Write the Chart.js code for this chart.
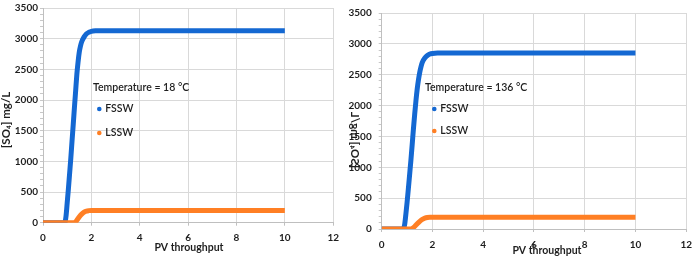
<!DOCTYPE html>
<html>
<head>
<meta charset="utf-8">
<script src="https://cdn.jsdelivr.net/npm/chart.js@4.4.1/dist/chart.umd.min.js"></script>
<style>
html,body{margin:0;padding:0;background:#fff;}
.box{position:absolute;top:0;height:259px;}
#b1{left:0;width:345px;}
#b2{left:345px;width:354px;}
</style>
</head>
<body>
<div class="box" id="b1"><canvas id="c1"></canvas></div>
<div class="box" id="b2"><canvas id="c2"></canvas></div>
<script>
// ---- data ----
const xTicks = [0, 2, 4, 6, 8, 10, 12];
const yTicks = [0, 500, 1000, 1500, 2000, 2500, 3000, 3500];
const seriesNames = ['FSSW', 'LSSW'];
const titles = ['Temperature = 18 °C', 'Temperature = 136 °C'];
const xTitle = 'PV throughput';
const yTitle = '[SO₄] mg/L';

// Left chart (18 °C)
const fssw18X = [0, 0.9, 0.95, 1.0, 1.05, 1.1, 1.15, 1.2, 1.25, 1.3, 1.35, 1.4, 1.45, 1.5, 1.55, 1.6, 1.7, 1.8, 1.9, 2.0, 2.2, 2.5, 10];
const fssw18Y = [0, 0, 100, 320, 550, 800, 1050, 1330, 1600, 1880, 2150, 2420, 2620, 2780, 2880, 2950, 3030, 3080, 3105, 3120, 3128, 3130, 3130];
const lssw18X = [0, 1.25, 1.3, 1.35, 1.4, 1.5, 1.6, 1.7, 1.8, 1.9, 2.0, 10];
const lssw18Y = [0, 0, 3, 15, 40, 95, 140, 172, 190, 197, 200, 200];

// Right chart (136 °C)
const fssw136X = [0, 0.85, 0.9, 0.95, 1.0, 1.05, 1.1, 1.15, 1.2, 1.25, 1.3, 1.35, 1.4, 1.45, 1.5, 1.55, 1.6, 1.7, 1.8, 1.9, 2.0, 2.2, 10];
const fssw136Y = [0, 0, 60, 230, 430, 650, 880, 1110, 1360, 1620, 1860, 2080, 2270, 2420, 2540, 2630, 2700, 2770, 2810, 2835, 2845, 2850, 2850];
const lssw136X = [0, 1.12, 1.2, 1.3, 1.4, 1.5, 1.6, 1.7, 1.8, 1.9, 10];
const lssw136Y = [0, 0, 8, 40, 85, 125, 155, 175, 186, 190, 190];

const BLUE = '#1468d2';
const ORANGE = '#ff7f24';
const FONT = 'Lato, "Liberation Sans", sans-serif';
const TXT = '#1e1e1e';

function pts(xs, ys) { return xs.map((x, i) => ({x: x, y: ys[i]})); }

function makeChart(id, cfg) {
  const W = cfg.W, H = 259;
  const overlay = {
    id: 'overlay',
    afterDraw(chart) {
      const ctx = chart.ctx;
      ctx.save();
      // x title
      ctx.fillStyle = TXT;
      ctx.font = 'bold 10.5px ' + FONT;
      ctx.textAlign = 'center';
      ctx.textBaseline = 'middle';
      ctx.fillText(xTitle, cfg.xtX, cfg.xtY);
      // y title
      ctx.save();
      ctx.font = 'bold 11.5px ' + FONT;
      ctx.translate(cfg.ytX, cfg.ytY);
      if (cfg.mirror) ctx.scale(-1, 1);
      ctx.rotate(-Math.PI / 2);
      ctx.fillText(yTitle, 0, 0);
      ctx.restore();
      // legend box text
      ctx.font = '600 10.5px ' + FONT;
      ctx.textAlign = 'left';
      ctx.fillStyle = TXT;
      ctx.fillText(cfg.title, cfg.lgX, cfg.lgY);
      const cols = [BLUE, ORANGE];
      seriesNames.forEach((n, i) => {
        const yy = cfg.dotY[i];
        ctx.beginPath();
        ctx.fillStyle = cols[i];
        ctx.arc(cfg.dotX, yy, 2.3, 0, Math.PI * 2);
        ctx.fill();
        ctx.fillStyle = TXT;
        ctx.fillText(n, cfg.dotX + 6, yy);
      });
      ctx.restore();
    }
  };
  return new Chart(document.getElementById(id), {
    type: 'scatter',
    data: {
      datasets: [
        {label: 'LSSW', data: pts(cfg.lx, cfg.ly), showLine: true, borderColor: ORANGE, backgroundColor: ORANGE,
         borderWidth: 5, pointRadius: 0, cubicInterpolationMode: 'monotone', order: 0},
        {label: 'FSSW', data: pts(cfg.fx, cfg.fy), showLine: true, borderColor: BLUE, backgroundColor: BLUE,
         borderWidth: 5, pointRadius: 0, cubicInterpolationMode: 'monotone', order: 1}
      ]
    },
    options: {
      responsive: true,
      maintainAspectRatio: false,
      animation: false,
      events: [],
      layout: {padding: {left: 0, right: W - cfg.right, top: cfg.top, bottom: 0}},
      plugins: {legend: {display: false}, tooltip: {enabled: false}},
      scales: {
        x: {
          type: 'linear', min: 0, max: 12,
          afterBuildTicks(s) { s.ticks = xTicks.map(v => ({value: v})); },
          afterFit(s) { s.height = H - cfg.bottom; },
          grid: {color: '#d9d9d9', lineWidth: 1, drawTicks: true, tickLength: 3, tickColor: '#bfbfbf'},
          border: {color: '#bfbfbf'},
          ticks: {color: TXT, font: {family: FONT, size: 10, weight: 'bold'}, padding: cfg.xPad, maxRotation: 0}
        },
        y: {
          type: 'linear', min: 0, max: 3500,
          afterBuildTicks(s) {
            const t = [];
            for (let v = 0; v <= 3500; v += 100) t.push({value: v});
            s.ticks = t;
          },
          afterFit(s) { s.width = cfg.left; },
          grid: {
            color: c => (yTicks.includes(c.tick.value) ? '#d9d9d9' : 'rgba(0,0,0,0)'),
            tickColor: '#c8c8c8', tickLength: 3, lineWidth: 1
          },
          border: {color: '#bfbfbf'},
          ticks: {
            autoSkip: false,
            color: TXT, font: {family: FONT, size: 10, weight: 'bold'}, padding: cfg.yPad,
            callback: v => (yTicks.includes(v) ? String(v) : '')
          }
        }
      }
    },
    plugins: [overlay]
  });
}

makeChart('c1', {
  W: 345, left: 43, right: 335, top: 7.5, bottom: 222.7,
  xPad: 6, yPad: 2,
  fx: fssw18X, fy: fssw18Y, lx: lssw18X, ly: lssw18Y,
  title: titles[0],
  xtX: 189, xtY: 248, ytX: 6, ytY: 120, mirror: false,
  lgX: 93, lgY: 88, dotX: 99.3, dotY: [109, 133]
});
makeChart('c2', {
  W: 354, left: 36.7, right: 345, top: 8.3, bottom: 229,
  xPad: 7, yPad: 7,
  fx: fssw136X, fy: fssw136Y, lx: lssw136X, ly: lssw136Y,
  title: titles[1],
  xtX: 202, xtY: 251, ytX: 10, ytY: 140, mirror: true,
  lgX: 80, lgY: 87.3, dotX: 89.3, dotY: [109, 131]
});
</script>
</body>
</html>
